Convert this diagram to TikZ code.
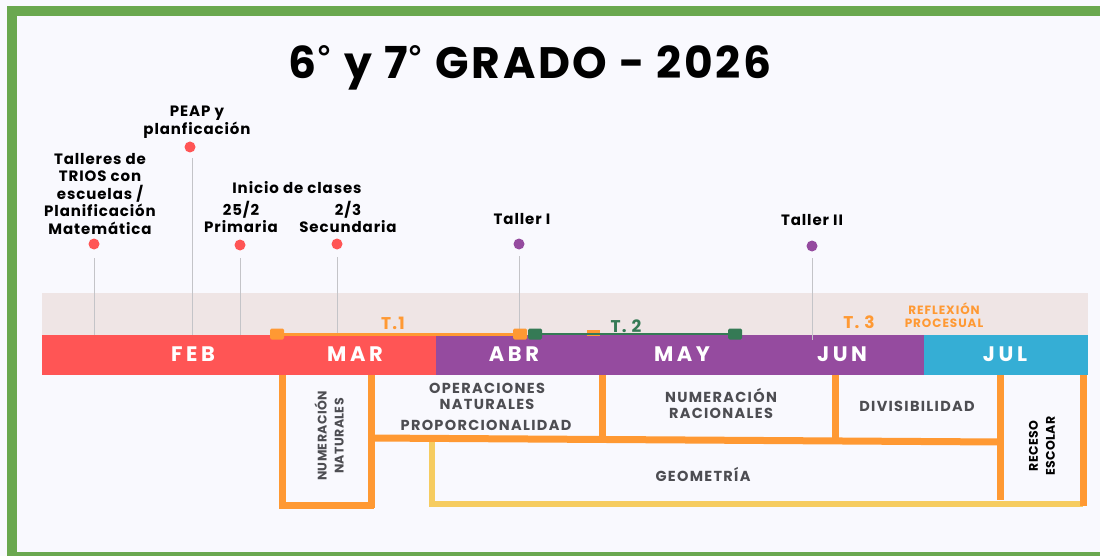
\documentclass[tikz,border=0pt]{standalone}
\usepackage{fontspec}
\setmainfont{Poppins}
\newfontfamily\dejavu{DejaVu Sans}
\definecolor{bgc}{HTML}{F9F9FE}
\definecolor{framec}{HTML}{6AA84F}
\definecolor{bandc}{HTML}{EFE5E5}
\definecolor{redc}{HTML}{FF5555}
\definecolor{purc}{HTML}{954B9F}
\definecolor{bluec}{HTML}{35AED5}
\definecolor{orc}{HTML}{FF9933}
\definecolor{dgc}{HTML}{357A55}
\definecolor{yelc}{HTML}{F6CC60}
\definecolor{txtc}{HTML}{4D4D52}
\definecolor{linec}{HTML}{C4C4C8}
\newcommand{\dg}{\raisebox{9pt}{\dejavu\fontsize{32}{32}\selectfont °}}
\begin{document}
\begin{tikzpicture}[x=1pt,y=-1pt,
  ttl/.style={font=\fontsize{44}{48}\selectfont\bfseries\addfontfeature{LetterSpace=6}, text=black, inner sep=0pt},
  evt/.style={font=\fontsize{15}{17.5}\selectfont\bfseries\addfontfeature{LetterSpace=6}, text=black, align=center, inner sep=0pt},
  dotn/.style={circle, fill=#1, minimum size=11pt, inner sep=0pt},
  vline/.style={draw=linec, line width=0.9pt},
  seg/.style={fill=#1, minimum height=40pt, inner sep=0pt, anchor=north west},
  mon/.style={font=\fontsize{21}{23}\selectfont\bfseries\addfontfeature{LetterSpace=17}, text=white, inner sep=0pt},
  sq/.style={fill=#1, minimum width=14pt, minimum height=11pt, rounded corners=1.5pt, inner sep=0pt},
  tlab/.style={font=\fontsize{17}{19}\selectfont\bfseries\addfontfeature{LetterSpace=7}, text=#1, inner sep=0pt},
  topic/.style={font=\fontsize{14.5}{16}\selectfont\bfseries\addfontfeature{LetterSpace=9}, text=txtc, align=center, inner sep=0pt},
  rtopic/.style={font=\fontsize{12.5}{17}\selectfont\bfseries\addfontfeature{LetterSpace=3}, align=center, inner sep=0pt, rotate=90},
  obar/.style={draw=orc, line width=7pt},
  ybar/.style={draw=yelc, line width=6pt}
]
\clip (0,0) rectangle (1100,556);
\fill[bgc] (0,0) rectangle (1100,556);
\draw[framec, line width=10pt] (11.5,11) rectangle (1120,557);

% title
\node[ttl] (title) at (530,68) {6\dg{} y 7\dg{} GRADO - 2026};

% band and month bar
\node[fill=bandc, minimum width=1046pt, minimum height=43pt, inner sep=0pt, anchor=north west] (band) at (42,293) {};
\node[seg=redc, minimum width=394pt] (febmar) at (42,335) {};
\node[seg=purc, minimum width=488pt] (abrjun) at (436,335) {};
\node[seg=bluec, minimum width=164pt] (jul) at (924,335) {};
\node[mon] (feb) at (193,354) {FEB};
\node[mon] (mar) at (355,354) {MAR};
\node[mon] (abr) at (514,354) {ABR};
\node[mon] (may) at (682,354) {MAY};
\node[mon] (jun) at (842,354) {JUN};
\node[mon] (julL) at (1005,354) {JUL};

% events
\node[dotn=redc] (d1) at (94,244) {};
\node[dotn=redc] (d2) at (190,147) {};
\node[dotn=redc] (d3) at (240,245) {};
\node[dotn=redc] (d4) at (337,244) {};
\node[dotn=purc] (d5) at (519,244) {};
\node[dotn=purc] (d6) at (812,246) {};
\coordinate (b1) at (94,335);
\coordinate (b2) at (192,335);
\coordinate (b3) at (240,335);
\coordinate (b4) at (337,335);
\coordinate (b5) at (519,335);
\coordinate (b6) at (812,340);
\coordinate (s1) at (94,258);
\coordinate (s2) at (192,158);
\coordinate (s3) at (240,258);
\coordinate (s4) at (337,257);
\coordinate (s5) at (519,256);
\coordinate (s6) at (812,258);
\foreach \i in {1,...,6} {\draw[vline] (s\i) -- (b\i);}

\node[evt] (e1) at (100,194) {Talleres de\\TRIOS con\\escuelas /\\Planificación\\Matemática};
\node[evt] (e2) at (197,122) {PEAP y\\planficación};
\node[evt] (e3) at (297,188) {Inicio de clases};
\node[evt] (e4) at (241,217) {25/2\\Primaria};
\node[evt] (e5) at (348,217) {2/3\\Secundaria};
\node[evt] (e6) at (522,219) {Taller I};
\node[evt] (e7) at (812,220) {Taller II};

% trimesters
\node[fill=orc, minimum width=13pt, minimum height=6pt, inner sep=0pt] (t2m) at (593,333) {};
\node[sq=orc] (t1a) at (277,334) {};
\node[sq=orc] (t1b) at (520,334) {};
\node[sq=dgc] (t2a) at (535,334) {};
\node[sq=dgc] (t2b) at (735,334) {};
\draw[orc, line width=3pt] (t1a) -- (t1b);
\draw[dgc, line width=2.5pt] (t2a) -- (t2b);
\node[tlab=orc] (t1) at (393,323) {T.1};
\node[tlab=dgc] (t2) at (626,326) {T. 2};
\node[tlab=orc] (t3) at (859,322) {T. 3};
\node[font=\fontsize{12}{12.5}\selectfont\bfseries\addfontfeature{LetterSpace=8}, text=orc, align=center, inner sep=0pt] (refl) at (944,315) {REFLEXIÓN\\PROCESUAL};

% lower structure
\draw[ybar] (432,440) -- (432,503.5) -- (1083,503.5);
\draw[obar] (282,375) -- (282,505) -- (374,505);
\draw[obar] (371,375) -- (371,508);
\draw[obar] (371,438) -- (1000,442);
\draw[obar] (602,375) -- (602,439);
\draw[obar] (835,375) -- (835,441);
\draw[obar] (1000,375) -- (1000,500);
\draw[obar] (1083,375) -- (1083,506);

\node[rtopic, text=txtc] (numnat) at (329,436) {NUMERACIÓN\\NATURALES};
\node[topic] (opnat) at (487,396) {OPERACIONES\\NATURALES};
\node[topic] (prop) at (486,425) {PROPORCIONALIDAD};
\node[topic] (numrac) at (721,403) {NUMERACIÓN\\RACIONALES};
\node[topic] (divi) at (917,406) {DIVISIBILIDAD};
\node[topic] (geo) at (703,474) {GEOMETRÍA};
\node[rtopic, text=black] (rec) at (1042,446) {RECESO\\ESCOLAR};
\end{tikzpicture}
\end{document}
